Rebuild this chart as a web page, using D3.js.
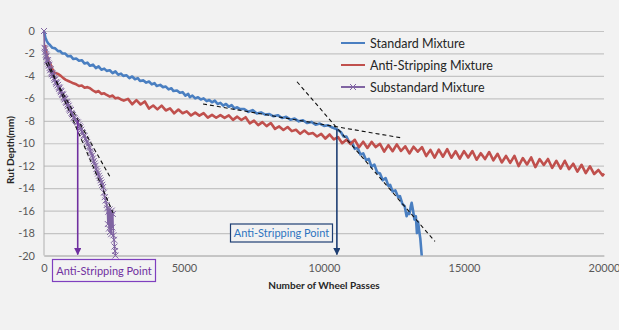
<!DOCTYPE html>
<html><head><meta charset="utf-8">
<script src="https://cdn.jsdelivr.net/npm/d3@7"></script>
<style>
html,body{margin:0;padding:0;background:#f2f2f2;}
svg{display:block;font-family:Lato,"Open Sans",sans-serif;}
</style></head>
<body><svg id="c" width="619" height="330"></svg>
<script>
// ---- data ----
const xTicks = [0, 5000, 10000, 15000, 20000];
const yTicks = [0, -2, -4, -6, -8, -10, -12, -14, -16, -18, -20];
const seriesNames = ["Standard Mixture", "Anti-Stripping Mixture", "Substandard Mixture"];

// [wheel passes, rut depth (mm)]
const standardSeries = [[0,0],[50,-0.6],[100,-0.9],[150,-1.1],[214,-1.25],[300,-1.5],[400,-1.55],[500,-1.8],[570,-1.78],[650,-2.0],[750,-2.0],[850,-2.25],[950,-2.22],[1048,-2.5],[1150,-2.45],[1250,-2.65],[1350,-2.6],[1450,-2.9],[1550,-2.82],[1643,-3.1],[1750,-3.0],[1850,-3.3],[1950,-3.15],[2050,-3.45],[2150,-3.35],[2240,-3.55],[2350,-3.5],[2450,-3.75],[2550,-3.6],[2650,-3.9],[2750,-3.8],[2830,-4.0],[2950,-3.95],[3050,-4.2],[3150,-4.05],[3250,-4.3],[3350,-4.2],[3430,-4.45],[3550,-4.4],[3650,-4.6],[3750,-4.5],[3850,-4.75],[3950,-4.65],[4025,-4.9],[4150,-4.8],[4250,-5.0],[4350,-4.95],[4450,-5.2],[4550,-5.1],[4620,-5.35],[4750,-5.3],[4850,-5.5],[4950,-5.45],[5050,-5.75],[5150,-5.6],[5210,-5.9],[5300,-5.75],[5400,-6.0],[5500,-5.9],[5600,-6.1],[5700,-6.0],[5810,-6.25],[5900,-6.15],[6000,-6.35],[6100,-6.2],[6200,-6.5],[6300,-6.4],[6400,-6.65],[6500,-6.5],[6600,-6.75],[6700,-6.6],[6800,-6.9],[6900,-6.8],[7000,-6.95],[7150,-6.95],[7300,-7.2],[7450,-7.05],[7600,-7.35],[7750,-7.25],[7900,-7.45],[8050,-7.4],[8200,-7.6],[8350,-7.5],[8500,-7.75],[8650,-7.65],[8800,-7.9],[8950,-7.8],[9100,-8.05],[9250,-7.95],[9400,-8.2],[9550,-8.1],[9700,-8.35],[9850,-8.25],[10000,-8.45],[10150,-8.4],[10300,-8.6],[10460,-8.75],[10600,-9.0],[10700,-9.4],[10800,-9.4],[10900,-9.9],[11000,-9.9],[11100,-10.5],[11200,-10.4],[11300,-11.0],[11400,-10.9],[11500,-11.5],[11600,-11.4],[11700,-12.1],[11800,-11.9],[11900,-12.6],[12000,-12.7],[12100,-13.3],[12200,-13.1],[12300,-13.8],[12360,-13.7],[12450,-14.3],[12550,-14.2],[12650,-14.8],[12710,-14.7],[12800,-15.4],[12880,-15.6],[12950,-16.5],[13000,-16.2],[13050,-16.3],[13100,-15.6],[13130,-15.3],[13180,-16.0],[13230,-16.8],[13280,-16.5],[13320,-18.0],[13360,-17.0],[13400,-17.8],[13440,-18.5],[13490,-20.0]];

const antiStrippingSeries = [[30,-1.25],[80,-2.0],[120,-2.3],[170,-2.8],[220,-2.9],[280,-3.3],[340,-3.6],[400,-3.75],[452,-3.77],[520,-3.85],[600,-4.0],[690,-4.2],[780,-4.35],[870,-4.45],[960,-4.55],[1048,-4.66],[1150,-4.75],[1250,-4.9],[1350,-4.85],[1450,-5.05],[1550,-5.0],[1643,-5.1],[1750,-5.3],[1850,-5.45],[1950,-5.35],[2050,-5.6],[2150,-5.55],[2240,-5.7],[2350,-5.85],[2450,-5.75],[2550,-6.0],[2650,-5.95],[2750,-6.1],[2850,-6.2],[3000,-6.05],[3150,-6.53],[3300,-6.16],[3450,-6.55],[3600,-6.28],[3750,-6.91],[3900,-6.64],[4050,-6.98],[4200,-6.65],[4350,-7.08],[4500,-6.9],[4650,-7.33],[4800,-7.0],[4950,-7.33],[5100,-7.16],[5250,-7.53],[5400,-7.27],[5550,-7.54],[5700,-7.31],[5850,-7.71],[6000,-7.47],[6150,-7.73],[6300,-7.49],[6450,-7.74],[6600,-7.52],[6750,-7.92],[6900,-7.63],[7050,-7.93],[7200,-7.68],[7350,-8.23],[7500,-7.98],[7650,-8.38],[7800,-8.12],[7950,-8.47],[8100,-8.2],[8250,-8.72],[8400,-8.5],[8550,-8.82],[8700,-8.55],[8850,-8.92],[9000,-8.8],[9150,-9.16],[9300,-8.87],[9450,-9.18],[9600,-9.09],[9750,-9.4],[9900,-9.16],[10050,-9.58],[10200,-9.22],[10350,-9.66],[10500,-9.45],[10650,-9.99],[10800,-9.68],[10950,-10.07],[11100,-9.69],[11250,-10.35],[11400,-9.86],[11550,-10.42],[11700,-9.88],[11850,-10.34],[12000,-10.05],[12150,-10.74],[12300,-10.17],[12450,-10.71],[12600,-10.1],[12750,-10.69],[12900,-10.27],[13050,-10.91],[13200,-10.31],[13350,-10.75],[13500,-10.35],[13650,-11.14],[13800,-10.59],[13950,-11.28],[14100,-10.57],[14250,-11.2],[14400,-10.52],[14550,-11.29],[14700,-10.71],[14850,-11.38],[15000,-10.7],[15150,-11.27],[15300,-10.69],[15450,-11.47],[15600,-10.89],[15750,-11.41],[15900,-10.78],[16050,-11.52],[16200,-10.94],[16350,-11.71],[16500,-11.13],[16650,-11.75],[16800,-11.12],[16950,-12.03],[17100,-11.32],[17250,-11.89],[17400,-11.26],[17550,-12.13],[17700,-11.41],[17850,-11.93],[18000,-11.4],[18150,-12.2],[18300,-11.56],[18450,-12.26],[18600,-11.56],[18750,-12.31],[18900,-11.82],[19050,-12.53],[19200,-11.92],[19350,-12.66],[19500,-12.05],[19650,-12.74],[19800,-12.38],[19950,-12.87],[20000,-12.7]];

const substandardSeries = [[0,0],[20,-1.5],[35,-1.85],[50,-1.6],[65,-2.1],[80,-2.3],[95,-2.2],[110,-2.6],[125,-2.75],[140,-2.6],[155,-2.9],[170,-3.1],[185,-3.0],[200,-3.3],[220,-3.5],[240,-3.4],[260,-3.7],[280,-3.85],[300,-3.75],[320,-4.0],[340,-3.9],[360,-4.2],[380,-4.35],[400,-4.3],[420,-4.55],[440,-4.7],[460,-4.6],[480,-4.85],[500,-4.8],[520,-5.0],[540,-5.15],[560,-5.05],[580,-5.3],[600,-5.45],[620,-5.35],[640,-5.6],[660,-5.7],[680,-5.65],[700,-5.9],[720,-6.0],[740,-6.1],[760,-6.05],[780,-6.3],[800,-6.4],[820,-6.35],[840,-6.55],[860,-6.7],[880,-6.65],[900,-6.9],[920,-7.0],[940,-7.1],[960,-7.05],[980,-7.3],[1000,-7.4],[1030,-7.5],[1060,-7.7],[1090,-7.75],[1120,-7.9],[1150,-8.0],[1180,-8.1],[1210,-8.15],[1240,-8.35],[1270,-8.5],[1300,-8.6],[1330,-8.8],[1360,-9.0],[1390,-9.1],[1420,-9.3],[1450,-9.35],[1480,-9.6],[1510,-9.7],[1540,-9.9],[1570,-10.1],[1600,-10.3],[1630,-10.4],[1660,-10.7],[1690,-10.9],[1720,-11.1],[1750,-11.35],[1780,-11.6],[1810,-11.8],[1840,-12.0],[1870,-12.3],[1900,-12.5],[1930,-12.7],[1960,-12.9],[1990,-13.1],[2020,-13.3],[2050,-13.5],[2080,-13.7],[2110,-13.9],[2140,-14.4],[2170,-14.8],[2200,-15.1],[2240,-15.5],[2260,-15.8],[2280,-17.2],[2300,-16.1],[2320,-17.6],[2340,-15.9],[2360,-17.9],[2380,-16.2],[2400,-18.1],[2420,-16.0],[2440,-17.5],[2460,-16.3],[2480,-18.2],[2500,-18.6],[2520,-19.2],[2540,-19.6],[2550,-20.0]];

// tangent (dashed) lines: [passes, depth] endpoints
const tangentStdA = [[5679,-6.5],[12786,-9.53]];
const tangentStdB = [[9036,-4.52],[13964,-18.75]];
const tangentSubA = [[71,-2.85],[2357,-13.0]];
const tangentSubB = [[143,-2.76],[2464,-16.2]];
// anti-stripping points
const stdPoint = [10460, -8.75];
const subPoint = [1204, -7.95];
const annotationText = "Anti-Stripping Point";

// ---- drawing ----
const svg = d3.select("#c");
const W = 619, H = 330;
const x = d3.scaleLinear().domain([0, 20000]).range([44, 604]);
const y = d3.scaleLinear().domain([-20, 0]).range([255.5, 31]);

svg.append("rect").attr("width", W).attr("height", H).attr("fill", "#f2f2f2");

const colors = {std: "#4a7fc1", anti: "#c0504d", sub: "#8064a2"};

// grid + y axis
const gy = svg.append("g").attr("transform", "translate(44,0)")
  .call(d3.axisLeft(y).tickValues(yTicks).tickSize(-560).tickPadding(9).tickFormat(d => String(d)));
gy.select(".domain").remove();
gy.selectAll(".tick line").attr("stroke", "#c4c4c4").attr("stroke-width", 1.2);
gy.selectAll(".tick text").attr("fill", "#595959").attr("font-size", 11).attr("font-family", "Lato");
svg.append("line").attr("x1", 44).attr("x2", 44).attr("y1", y(0)).attr("y2", y(-20)).attr("stroke", "#b0b0b0");

// x axis
const gx = svg.append("g").attr("transform", `translate(0,${y(-20)})`)
  .call(d3.axisBottom(x).tickValues(xTicks).tickSize(0).tickPadding(9).tickFormat(d3.format("d")));
gx.select(".domain").attr("stroke", "#b0b0b0");
gx.selectAll(".tick text").attr("fill", "#595959").attr("font-size", 11).attr("font-family", "Lato");

// axis titles
svg.append("text").attr("x", 324).attr("y", 289).attr("text-anchor", "middle")
  .attr("font-size", 10).attr("font-weight", "bold").attr("fill", "#262626").text("Number of Wheel Passes");
svg.append("text").attr("transform", "translate(14,150) rotate(-90)").attr("text-anchor", "middle")
  .attr("font-size", 10).attr("font-weight", "bold").attr("fill", "#262626").text("Rut Depth(mm)");

const line = d3.line().x(d => x(d[0])).y(d => y(d[1]));

svg.append("path").datum(standardSeries).attr("d", line).attr("fill", "none")
  .attr("stroke", colors.std).attr("stroke-width", 2.6).attr("stroke-linejoin", "round");
svg.append("path").datum(antiStrippingSeries).attr("d", line).attr("fill", "none")
  .attr("stroke", colors.anti).attr("stroke-width", 2.6).attr("stroke-linejoin", "round");
svg.append("path").datum(substandardSeries).attr("d", line).attr("fill", "none")
  .attr("stroke", colors.sub).attr("stroke-width", 1.5);
const xm = 3;
svg.append("g").selectAll("path").data(substandardSeries).join("path")
  .attr("d", d => `M${x(d[0])-xm},${y(d[1])-xm}L${x(d[0])+xm},${y(d[1])+xm}M${x(d[0])-xm},${y(d[1])+xm}L${x(d[0])+xm},${y(d[1])-xm}`)
  .attr("stroke", colors.sub).attr("stroke-width", 1).attr("fill", "none");

// tangent lines
[tangentStdA, tangentStdB, tangentSubA, tangentSubB].forEach(t => {
  svg.append("path").datum(t).attr("d", line).attr("fill", "none")
    .attr("stroke", "#111").attr("stroke-width", 1.1).attr("stroke-dasharray", "4,3");
});

// arrows
const defs = svg.append("defs");
function marker(id, col) {
  defs.append("marker").attr("id", id).attr("viewBox", "0 0 10 10").attr("refX", 9).attr("refY", 5)
    .attr("markerWidth", 4.5).attr("markerHeight", 4.5).attr("orient", "auto")
    .append("path").attr("d", "M0,0L10,5L0,10z").attr("fill", col);
}
marker("arB", "#1f3f73");
marker("arP", "#7030a0");
svg.append("line").attr("x1", x(stdPoint[0])).attr("x2", x(stdPoint[0])).attr("y1", y(stdPoint[1])).attr("y2", y(-20) - 1)
  .attr("stroke", "#1f3f73").attr("stroke-width", 1.6).attr("marker-end", "url(#arB)");
svg.append("line").attr("x1", x(subPoint[0])).attr("x2", x(subPoint[0])).attr("y1", y(subPoint[1])).attr("y2", y(-20) - 1)
  .attr("stroke", "#7030a0").attr("stroke-width", 1.6).attr("marker-end", "url(#arP)");

// annotation boxes
function box(x0, y0, w, h, stroke, fill) {
  svg.append("rect").attr("x", x0).attr("y", y0).attr("width", w).attr("height", h)
    .attr("fill", "#f2f2f2").attr("stroke", stroke).attr("stroke-width", 1.2);
  svg.append("text").attr("x", x0 + w / 2).attr("y", y0 + h / 2 + 4).attr("text-anchor", "middle")
    .attr("font-size", 11).attr("fill", fill).text(annotationText);
}
box(230.5, 224, 102, 18, "#1f3f73", "#2e74c0");
box(52.5, 259.5, 103, 22, "#7f3fbf", "#7030a0");

// legend
const legend = svg.append("g");
const lcolors = [colors.std, colors.anti, colors.sub];
seriesNames.forEach((n, i) => {
  const ly = 43 + i * 22;
  legend.append("line").attr("x1", 341).attr("x2", 365).attr("y1", ly).attr("y2", ly)
    .attr("stroke", lcolors[i]).attr("stroke-width", 2);
  if (i === 2) {
    legend.append("path").attr("d", `M350,${ly-3}L356,${ly+3}M350,${ly+3}L356,${ly-3}`).attr("stroke", lcolors[i]).attr("stroke-width", 1);
  }
  legend.append("text").attr("x", 370).attr("y", ly + 4.5).attr("font-size", 12.5).attr("fill", "#262626").text(n);
});
</script></body></html>
